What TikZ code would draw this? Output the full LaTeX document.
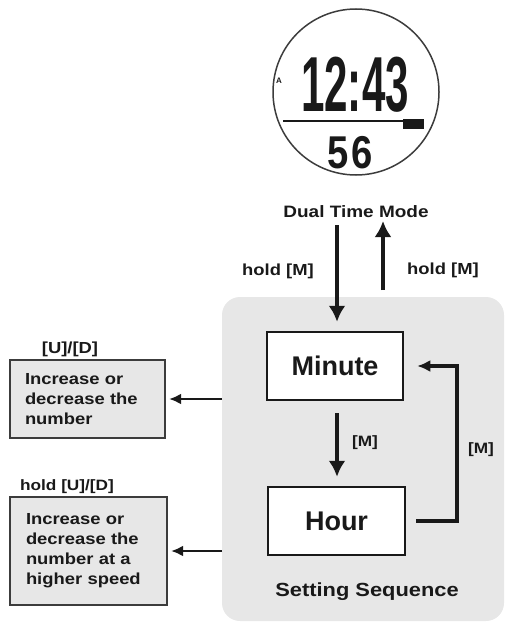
\documentclass[tikz,border=0pt]{standalone}
\usepackage{fontspec}
\usepackage{graphicx}
\setmainfont{Liberation Sans}
\newfontfamily\wf[FakeStretch=1.15]{Liberation Sans}
\usetikzlibrary{arrows.meta}
\definecolor{panel}{RGB}{231,231,231}
\definecolor{ink}{RGB}{25,25,25}
\begin{document}
\begin{tikzpicture}[x=1pt,y=-1pt,
  lbl/.style={inner sep=0pt, text=ink, font=\wf\fontsize{16}{18}\selectfont\bfseries},
  seqbox/.style={draw=ink, line width=2.5pt, fill=white, minimum width=136pt, minimum height=68pt, inner sep=0pt, text=ink, font=\fontsize{27}{30}\selectfont\bfseries},
  infobox/.style={draw=ink!85, line width=2.2pt, fill=panel, inner xsep=15pt, inner ysep=0pt, text width=125pt, align=left, text=ink, font=\wf\fontsize{16}{20}\selectfont\bfseries},
  bigarrow/.style={draw=ink, line width=4pt, -{Latex[length=16pt,width=17pt]}},
  looparrow/.style={draw=ink, line width=3.5pt, -{Latex[length=13pt,width=12pt]}},
  thinarrow/.style={draw=ink, line width=2.5pt, -{Latex[length=12pt,width=11pt]}}
]
\useasboundingbox (0,0) rectangle (506,623);
% setting panel
\fill[panel, rounded corners=18pt] (222,297) rectangle (504,621);
% watch face
\node[draw=ink!85, line width=1.5pt, circle, minimum size=166pt, inner sep=0pt] (watch) at (356,92) {};
\node[inner sep=0pt, text=ink, font=\fontsize{78}{78}\selectfont\bfseries] (time) at (355,85) {\scalebox{0.54}[1]{12:43}};
\node[inner sep=0pt, text=ink, font=\fontsize{8}{8}\selectfont\bfseries] (alarm) at (279,81) {A};
\draw[ink, line width=2.5pt] (283,121) -- (404,121);
\fill[ink] (403,119) rectangle (424,129);
\node[inner sep=0pt, text=ink, font=\fontsize{46}{46}\selectfont\bfseries] (sec) at (350,153) {\scalebox{0.83}[1]{5\hspace{3pt}6}};
\node[lbl, font=\wf\fontsize{16.5}{18}\selectfont\bfseries] (dual) at (356,212) {Dual Time Mode};
% boxes
\node[seqbox] (minute) at (335,366) {Minute};
\node[seqbox, minimum width=137pt] (hour) at (336.5,521) {Hour};
\node[infobox, minimum height=78pt] (info1) at (87.5,399) {Increase or\\decrease the\\number};
\node[infobox, minimum height=108pt, minimum width=157pt] (info2) at (88.5,551) {Increase or\\decrease the\\number at a\\higher speed};
% labels
\node[lbl] (holdL) at (278,271) {hold [M]};
\node[lbl] (holdR) at (443,270) {hold [M]};
\node[lbl, font=\wf\fontsize{15}{18}\selectfont\bfseries] (m1) at (365,443) {[M]};
\node[lbl, font=\wf\fontsize{15}{18}\selectfont\bfseries] (m2) at (481,450) {[M]};
\node[lbl] (ud) at (70,349) {[U]/[D]};
\node[lbl, font=\wf\fontsize{15}{18}\selectfont\bfseries] (hud) at (67,487) {hold [U]/[D]};
\node[lbl, font=\wf\fontsize{19}{22}\selectfont\bfseries] (seq) at (367,592) {Setting Sequence};
% connectors
\coordinate (dS) at (337,225);
\draw[bigarrow, shorten >=9pt] (dS) -- (dS |- minute.north);
\coordinate (uS) at (383,290);
\coordinate (uE) at (383,221);
\draw[bigarrow] (uS) -- (uE);
\draw[bigarrow, shorten <=12pt, shorten >=9pt] ([xshift=2pt]minute.south) -- ([xshift=2pt]minute.south |- hour.north);
\coordinate (loopR) at (457,0);
\draw[looparrow] ([xshift=10pt]hour.east) -| (loopR |- minute.east) -- ([xshift=13pt]minute.east);
\coordinate (pE) at (222,0);
\draw[thinarrow] (pE |- info1.east) -- ([xshift=3pt]info1.east);
\draw[thinarrow] (pE |- info2.east) -- ([xshift=3pt]info2.east);
\end{tikzpicture}
\end{document}
